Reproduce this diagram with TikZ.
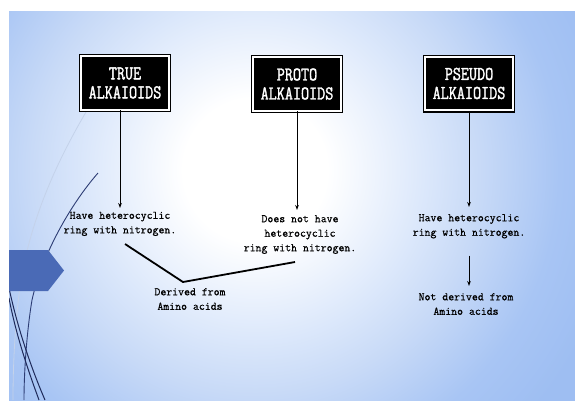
\documentclass[tikz,border=0pt]{standalone}
\usepackage{fontspec}
\usetikzlibrary{arrows.meta}

% serif typewriter faces: labels and tall, heavy heading letters
\newfontfamily\labelfont[FakeBold=0.6]{Latin Modern Mono}
\newfontfamily\boxfont[FakeStretch=0.8, FakeBold=1.6]{Latin Modern Mono}

\definecolor{bgA}{HTML}{DCE8FB}
\definecolor{bgB}{HTML}{C8DAF7}
\definecolor{bgC}{HTML}{A8C5F4}
\definecolor{bgD}{HTML}{9EBEF2}
\definecolor{tabblue}{HTML}{4A6AB6}
\definecolor{wispnavy}{HTML}{1E2A5A}
\definecolor{wispblue}{HTML}{2C3C74}
\definecolor{wisplight}{HTML}{C4D2EA}

% slide background: pale centre fading to blue edges
% (a circle of radius R spans 25bp of this shading)
\pgfdeclareradialshading{slidebg}{\pgfpoint{0bp}{0bp}}{%
  color(0bp)=(white); color(4.5bp)=(white); color(10.5bp)=(bgA);
  color(14bp)=(bgB); color(19bp)=(bgC); color(23bp)=(bgD); color(50bp)=(bgD)}

\begin{document}
\begin{tikzpicture}[x=1pt,y=-1pt,
  classbox/.style={draw=black, line width=1.2pt, double=white,
    double distance=2pt, fill=black, text=white,
    minimum width=87.6pt, minimum height=53.6pt, inner sep=0pt,
    align=center, font=\boxfont\fontsize{19.6}{19}\selectfont},
  note/.style={anchor=north, inner sep=0pt, align=center,
    font=\labelfont\fontsize{11.5}{14.5}\selectfont},
  down/.style={-{Stealth[length=5pt,width=3.6pt]}, line width=0.9pt},
  link/.style={line width=1.8pt, line join=round}]

\useasboundingbox (0,0) rectangle (575,400);
\fill[white] (0,0) rectangle (575,400);

% background and decorative wisps
\begin{scope}
  \clip (9,11) rectangle (575,400);
  \shade[shading=slidebg] (255,170) circle (400);
  \draw[wisplight, line width=0.8pt]
    (86,112) .. controls (58,160) and (32,215) .. (21,280)
             .. controls (15,320) and (13,365) .. (13,400);
  \draw[wispblue, line width=0.9pt]
    (98,173) .. controls (70,205) and (42,255) .. (32,300)
             .. controls (27,330) and (24,370) .. (24,400);
  \draw[wispnavy, line width=1pt]
    (9,288) .. controls (18,330) and (32,370) .. (45,400);
  \draw[wispnavy, line width=1pt]
    (9,298) .. controls (16,335) and (28,370) .. (39,400);
  \fill[tabblue] (9,250) -- (48,250) -- (64,270.5) -- (48,291) -- (9,291) -- cycle;
\end{scope}

% class headings
\node[classbox] (true)   at (125,83)   {TRUE\\ALKAIOIDS};
\node[classbox] (proto)  at (297,84)   {PROTO\\ALKAIOIDS};
\node[classbox] (pseudo) at (469,83.5) {PSEUDO\\ALKAIOIDS};

% descriptions
\node[note] (t1) at (120,211.6) {Have heterocyclic\\ring with nitrogen.};
\node[note] (t2) at (300,215)   {Does not have\\heterocyclic\\ring with nitrogen.};
\node[note] (t3) at (469,214)   {Have heterocyclic\\ring with nitrogen.};
\node[note] (t4) at (466,293)   {Not derived from\\Amino acids};
\node[note] (t5) at (190,288)   {Derived from\\Amino acids};

% arrows
\draw[down, shorten >=3.6pt] (t1.north |- true.south) -- (t1.north);
\draw[down, shorten >=5pt] (proto.south) -- (proto.south |- t2.north);
\draw[down, shorten >=7pt] (pseudo.south) -- (pseudo.south |- t3.north);
\draw[down, shorten <=17pt, shorten >=7pt]
  (pseudo.south |- t3.south) -- (pseudo.south |- t4.north);

% joint origin of true and proto alkaloids
\coordinate (vA) at (125,244);
\coordinate (vB) at (183,282);
\coordinate (vC) at (295,262);
\draw[link] (vA) -- (vB) -- (vC);

\end{tikzpicture}
\end{document}
